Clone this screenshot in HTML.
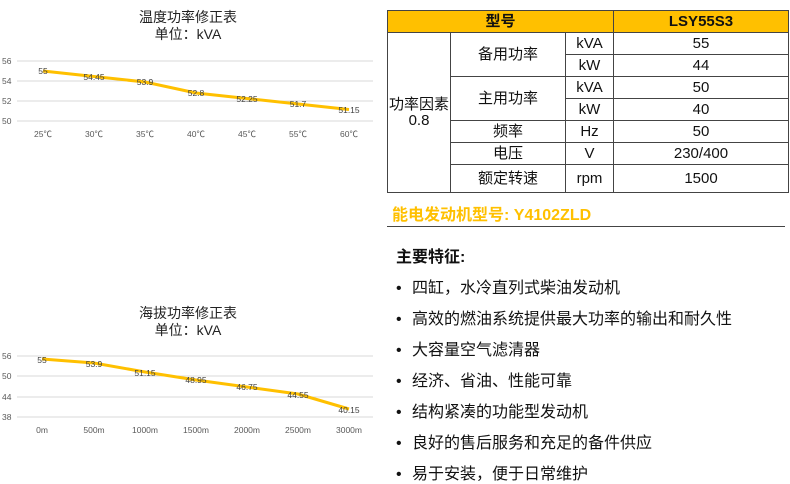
<!DOCTYPE html>
<html><head><meta charset="utf-8"><style>
body{margin:0;width:790px;height:481px;background:#fff;font-family:"Liberation Sans","Noto Sans CJK SC",sans-serif;position:relative;overflow:hidden}
.a{position:absolute;white-space:nowrap}
table{position:absolute;left:387px;top:10px;border-collapse:collapse;font-size:15px;color:#111}
td{border:1.5px solid #444;text-align:center;padding:0;line-height:16px}
tr{height:22px}
.h td{background:#ffc000;font-weight:bold}
.li{position:absolute;left:396px;font-size:16px;color:#111}
.li span{display:inline-block;width:16px}
</style></head><body>
<svg class="a" style="left:0;top:0" width="385" height="481" font-family="Liberation Sans,Noto Sans CJK SC,sans-serif">
<g text-anchor="middle" font-size="14" fill="#222">
<text x="188" y="22">温度功率修正表</text><text x="188" y="39">单位：kVA</text>
<text x="188" y="318">海拔功率修正表</text><text x="188" y="335">单位：kVA</text></g>
<g stroke="#d9d9d9" stroke-width="1">
<line x1="17" x2="373" y1="61" y2="61"/><line x1="17" x2="373" y1="81" y2="81"/><line x1="17" x2="373" y1="101" y2="101"/><line x1="17" x2="373" y1="121" y2="121"/>
<line x1="17" x2="373" y1="356" y2="356"/><line x1="17" x2="373" y1="376" y2="376"/><line x1="17" x2="373" y1="397" y2="397"/><line x1="17" x2="373" y1="417" y2="417"/></g>
<g font-size="8.5" fill="#595959">
<text x="2" y="64">56</text><text x="2" y="84">54</text><text x="2" y="104">52</text><text x="2" y="124">50</text>
<text x="2" y="359">56</text><text x="2" y="379">50</text><text x="2" y="400">44</text><text x="2" y="420">38</text></g>
<polyline fill="none" stroke="#ffc000" stroke-width="3" points="43,71 94,76.5 145,82 196,93 247,98.5 298,104 349,109.5"/>
<polyline fill="none" stroke="#ffc000" stroke-width="3" points="42,359 94,363 145,372 196,380 247,387 298,394 349,409"/>
<g font-size="8.5" fill="#404040" text-anchor="middle">
<text x="43" y="74">55</text><text x="94" y="80">54.45</text><text x="145" y="85">53.9</text><text x="196" y="96">52.8</text><text x="247" y="102">52.25</text><text x="298" y="107">51.7</text><text x="349" y="113">51.15</text>
<text x="42" y="363">55</text><text x="94" y="367">53.9</text><text x="145" y="376">51.15</text><text x="196" y="383">48.95</text><text x="247" y="390">46.75</text><text x="298" y="398">44.55</text><text x="349" y="413">40.15</text>
</g>
<g font-size="8.5" fill="#595959" text-anchor="middle">
<text x="43" y="137">25℃</text><text x="94" y="137">30℃</text><text x="145" y="137">35℃</text><text x="196" y="137">40℃</text><text x="247" y="137">45℃</text><text x="298" y="137">55℃</text><text x="349" y="137">60℃</text>
<text x="42" y="433">0m</text><text x="94" y="433">500m</text><text x="145" y="433">1000m</text><text x="196" y="433">1500m</text><text x="247" y="433">2000m</text><text x="298" y="433">2500m</text><text x="349" y="433">3000m</text>
</g></svg>
<table>
<tr class="h"><td colspan="3" style="width:224px">型号</td><td style="width:174px">LSY55S3</td></tr>
<tr><td rowspan="7" style="width:62px">功率因素<br>0.8</td><td rowspan="2" style="width:114px">备用功率</td><td style="width:47px">kVA</td><td>55</td></tr>
<tr><td>kW</td><td>44</td></tr>
<tr><td rowspan="2">主用功率</td><td>kVA</td><td>50</td></tr>
<tr><td>kW</td><td>40</td></tr>
<tr><td>频率</td><td>Hz</td><td>50</td></tr>
<tr><td>电压</td><td>V</td><td>230/400</td></tr>
<tr style="height:28px"><td>额定转速</td><td>rpm</td><td>1500</td></tr>
</table>
<div class="a" style="left:392px;top:201px;font-size:16px;font-weight:bold;color:#ffc000">能电发动机型号: Y4102ZLD</div>
<div class="a" style="left:387px;top:226px;width:398px;height:1px;background:#444"></div>
<div class="a" style="left:396px;top:243px;font-size:16px;font-weight:bold;color:#111">主要特征:</div>
<div class="li" style="top:274px"><span>•</span>四缸，水冷直列式柴油发动机</div>
<div class="li" style="top:305px"><span>•</span>高效的燃油系统提供最大功率的输出和耐久性</div>
<div class="li" style="top:336px"><span>•</span>大容量空气滤清器</div>
<div class="li" style="top:367px"><span>•</span>经济、省油、性能可靠</div>
<div class="li" style="top:398px"><span>•</span>结构紧凑的功能型发动机</div>
<div class="li" style="top:429px"><span>•</span>良好的售后服务和充足的备件供应</div>
<div class="li" style="top:460px"><span>•</span>易于安装，便于日常维护</div>
</body></html>
